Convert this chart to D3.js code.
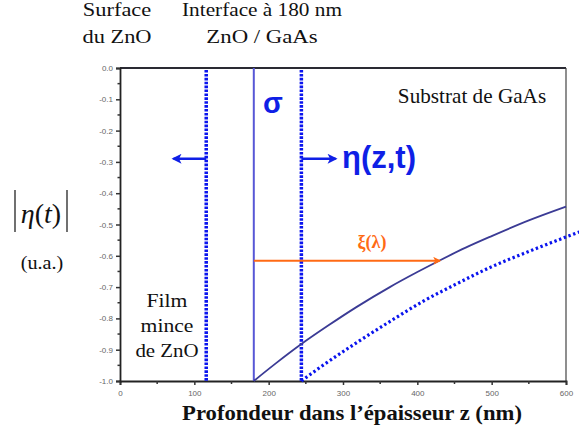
<!DOCTYPE html>
<html><head><meta charset="utf-8">
<script src="https://cdn.jsdelivr.net/npm/d3@7"></script>
<style>
html,body{margin:0;padding:0;background:#fff;}
svg{display:block;}
</style></head>
<body>
<svg id="chart" width="579" height="430"></svg>
<script>
// ---- data ----
const xTicks = [0, 100, 200, 300, 400, 500, 600];
const xMinor = [50, 150, 250, 350, 450, 550];
const yTicks = [0.0, -0.1, -0.2, -0.3, -0.4, -0.5, -0.6, -0.7, -0.8, -0.9, -1.0];
const yMinor = [-0.05, -0.15, -0.25, -0.35, -0.45, -0.55, -0.65, -0.75, -0.85, -0.95];
const solidZ   = [180, 210, 244, 280, 318, 363, 400, 430, 465, 500, 550, 600];
const solidEta = [-1.0, -0.943, -0.882, -0.823, -0.764, -0.700, -0.652, -0.615, -0.574, -0.537, -0.487, -0.443];
const dottedZ   = [244, 270, 318, 363, 408, 450, 498, 550, 600, 618];
const dottedEta = [-1.0, -0.955, -0.878, -0.81, -0.745, -0.693, -0.637, -0.586, -0.54, -0.524];
const surfaceZ = 116, interfaceZ = 180, frontZ = 244;
const arrowEta = -0.29, xiEta = -0.616, xiEndZ = 430;
const leftArrowEndZ = 72, rightArrowEndZ = 290;

// ---- chart ----
const SERIF = "'Liberation Serif', 'Times New Roman', serif";
const SANS = "'Liberation Sans', Arial, sans-serif";
const svg = d3.select("#chart");
const x = d3.scaleLinear().domain([0, 600]).range([120, 566]);
const y = d3.scaleLinear().domain([-1, 0]).range([381, 68]);

const defs = svg.append("defs");
function marker(id, color, w, h) {
  defs.append("marker").attr("id", id).attr("viewBox", "0 0 10 10")
    .attr("refX", 8).attr("refY", 5).attr("markerWidth", w).attr("markerHeight", h)
    .attr("markerUnits", "userSpaceOnUse").attr("orient", "auto")
    .append("path").attr("d", "M0,0 L10,5 L0,10 L2.5,5 Z").attr("fill", color);
}
marker("blueHead", "#0f1fe6", 11, 10);
marker("orangeHead", "#ff6a14", 9, 8);

// frame
svg.append("line").attr("x1", x(0)).attr("x2", x(600)).attr("y1", y(0)).attr("y2", y(0))
  .attr("stroke", "#2a2a33").attr("stroke-width", 2);
svg.append("line").attr("x1", x(600)).attr("x2", x(600)).attr("y1", y(0)).attr("y2", y(-1))
  .attr("stroke", "#444").attr("stroke-width", 1.2);

// axes
const xAxis = d3.axisBottom(x).tickValues(xTicks).tickFormat(d3.format("d")).tickSize(4).tickPadding(5);
const gx = svg.append("g").attr("transform", `translate(0,${y(-1)})`).call(xAxis);
gx.append("g").selectAll("line").data(xMinor).join("line")
  .attr("x1", d => x(d)).attr("x2", d => x(d)).attr("y1", 0).attr("y2", 3).attr("stroke", "#333").attr("stroke-width", 1.5);
const yAxis = d3.axisLeft(y).tickValues(yTicks).tickFormat(d3.format(".1f")).tickSize(4).tickPadding(3);
const gy = svg.append("g").attr("transform", `translate(${x(0)},0)`).call(yAxis);
gy.append("g").selectAll("line").data(yMinor).join("line")
  .attr("x1", 0).attr("x2", -2.5).attr("y1", d => y(d)).attr("y2", d => y(d)).attr("stroke", "#333").attr("stroke-width", 1.5);
[gx, gy].forEach(g => {
  g.select(".domain").attr("stroke", "#222").attr("stroke-width", 1.8);
  g.selectAll(".tick line").attr("stroke", "#333").attr("stroke-width", 1.5);
  g.selectAll("text").attr("font-family", SANS).attr("font-size", 8).attr("fill", "#666");
});
gy.selectAll(".tick text").text(d => d === 0 ? "0.0" : d3.format(".1f")(d).replace("−", "-"));

// vertical markers
svg.append("line").attr("x1", x(interfaceZ)).attr("x2", x(interfaceZ)).attr("y1", y(0)).attr("y2", y(-1))
  .attr("stroke", "#5757d6").attr("stroke-width", 2);
[surfaceZ, frontZ].forEach(z => {
  svg.append("line").attr("x1", x(z)).attr("x2", x(z)).attr("y1", y(0) + 2).attr("y2", y(-1))
    .attr("stroke", "#0a14ee").attr("stroke-width", 3.5).attr("stroke-dasharray", "2.6,1.3");
});

// curves
const line = d3.line().x(d => x(d[0])).y(d => y(d[1])).curve(d3.curveMonotoneX);
svg.append("path").datum(solidZ.map((z, i) => [z, solidEta[i]])).attr("d", line)
  .attr("fill", "none").attr("stroke", "#3b3b95").attr("stroke-width", 1.8);
svg.append("path").datum(dottedZ.map((z, i) => [z, dottedEta[i]])).attr("d", line)
  .attr("fill", "none").attr("stroke", "#0a14ee").attr("stroke-width", 3.2).attr("stroke-dasharray", "2.4,2.6");

// arrows
svg.append("line").attr("x1", x(surfaceZ)).attr("x2", x(leftArrowEndZ)).attr("y1", y(arrowEta)).attr("y2", y(arrowEta))
  .attr("stroke", "#0f1fe6").attr("stroke-width", 2.6).attr("marker-end", "url(#blueHead)");
svg.append("line").attr("x1", x(frontZ)).attr("x2", x(rightArrowEndZ)).attr("y1", y(arrowEta)).attr("y2", y(arrowEta))
  .attr("stroke", "#0f1fe6").attr("stroke-width", 2.6).attr("marker-end", "url(#blueHead)");
svg.append("line").attr("x1", x(interfaceZ)).attr("x2", x(xiEndZ)).attr("y1", y(xiEta)).attr("y2", y(xiEta))
  .attr("stroke", "#ff6a14").attr("stroke-width", 2).attr("marker-end", "url(#orangeHead)");

// annotations
const t = (txt, px, py, size, opts = {}) => svg.append("text")
  .attr("transform", `translate(${px},${py}) scale(${opts.sx || 1},1)`)
  .attr("font-size", size).attr("text-anchor", opts.anchor || "middle")
  .attr("font-family", opts.sans ? SANS : SERIF)
  .attr("font-weight", opts.bold ? "bold" : "normal").attr("fill", opts.fill || "#111").text(txt);

t("σ", 263, 113, 29, {anchor: "start", sans: true, bold: true, fill: "#0f1fe6"});
t("η(z,t)", 342, 168, 31, {anchor: "start", sans: true, bold: true, fill: "#0f1fe6"});
t("ξ(λ)", 372, 248, 18, {bold: true, fill: "#ff6a14"});
t("Substrat de GaAs", 472, 103, 20, {sx: 1.06});
t("Surface", 117, 16, 19, {sx: 1.18});
t("du ZnO", 117, 43, 19, {sx: 1.18});
t("Interface à 180 nm", 262, 16, 19, {sx: 1.12});
t("ZnO / GaAs", 262, 43, 19, {sx: 1.2});
t("Film", 167, 307, 19, {sx: 1.14});
t("mince", 167, 332, 19, {sx: 1.14});
t("de ZnO", 167, 357, 19, {sx: 1.1});
t("(u.a.)", 42, 269, 18, {sx: 1.12});
t("Profondeur dans l’épaisseur z (nm)", 352, 420, 22, {bold: true, sx: 1.03});

// |η(t)| label
const yl = svg.append("text").attr("x", 41).attr("y", 223).attr("text-anchor", "middle")
  .attr("font-family", SERIF).attr("font-size", 28).attr("fill", "#111");
yl.append("tspan").attr("font-style", "italic").text("η");
yl.append("tspan").text("(");
yl.append("tspan").attr("font-style", "italic").text("t");
yl.append("tspan").text(")");
svg.append("line").attr("x1", 15).attr("x2", 15).attr("y1", 190).attr("y2", 232).attr("stroke", "#111").attr("stroke-width", 1.2);
svg.append("line").attr("x1", 67).attr("x2", 67).attr("y1", 190).attr("y2", 232).attr("stroke", "#111").attr("stroke-width", 1.2);
</script>
</body></html>
